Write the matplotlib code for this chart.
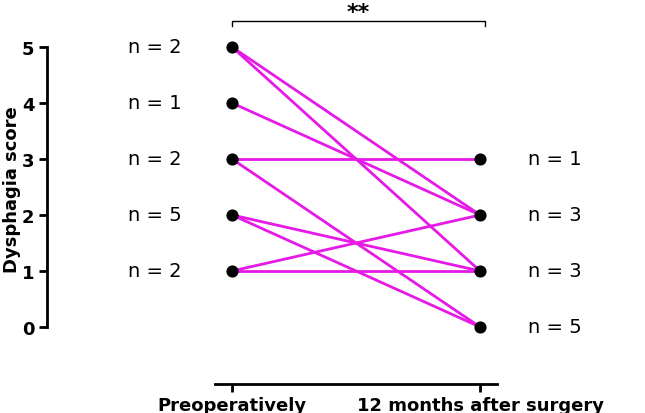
import matplotlib
matplotlib.use("Agg")
import matplotlib.pyplot as plt

groups = ["Preoperatively", "12 months after surgery"]
pairs = [(5, 2), (5, 1), (4, 2), (3, 3), (3, 0), (2, 1), (2, 0), (1, 2), (1, 1)]
pre_scores = [5, 4, 3, 2, 1]
pre_counts = [2, 1, 2, 5, 2]
post_scores = [3, 2, 1, 0]
post_counts = [1, 3, 3, 5]

W, H = 645, 414
fig = plt.figure(figsize=(W/100, H/100), dpi=100)
ax = fig.add_axes([47/W, 29/H, 1 - 47/W, 1 - 29/H])
ax.set_xlim(-0.746, 1.665)
ax.set_ylim(-1.018, 5.857)

for a, b in pairs:
    ax.plot([0, 1], [a, b], color="#E619E6", lw=2, zorder=2)
pts = sorted(set([(0, a) for a, b in pairs] + [(1, b) for a, b in pairs]))
ax.scatter([p[0] for p in pts], [p[1] for p in pts], s=60, color="black", zorder=3, clip_on=False)

for s, c in zip(pre_scores, pre_counts):
    ax.text(-0.31, s, f"n = {c}", ha="center", va="center", fontsize=14)
for s, c in zip(post_scores, post_counts):
    ax.text(1.30, s, f"n = {c}", ha="center", va="center", fontsize=14)

# significance bracket
ax.plot([0, 0, 1.02, 1.02], [5.38, 5.46, 5.46, 5.38], color="black", lw=1, clip_on=False)
ax.text(0.51, 5.45, "**", ha="center", va="bottom", fontsize=16, fontweight="bold")

for sp in ["top", "right"]:
    ax.spines[sp].set_visible(False)
ax.spines["left"].set_bounds(0, 5)
ax.spines["bottom"].set_bounds(-0.07, 1.07)
ax.spines["left"].set_linewidth(2)
ax.spines["bottom"].set_linewidth(2)
ax.set_yticks(range(6))
ax.set_yticklabels([str(i) for i in range(6)], fontsize=13, fontweight="bold")
ax.set_xticks([0, 1])
ax.set_xticklabels(groups, fontsize=13, fontweight="bold")
ax.tick_params(width=2, length=6, pad=3)
fig.text(12/W, 1 - 190/H, "Dysphagia score", rotation=90, ha="center", va="center",
         fontsize=13, fontweight="bold")
fig.savefig("out.png", dpi=100)
